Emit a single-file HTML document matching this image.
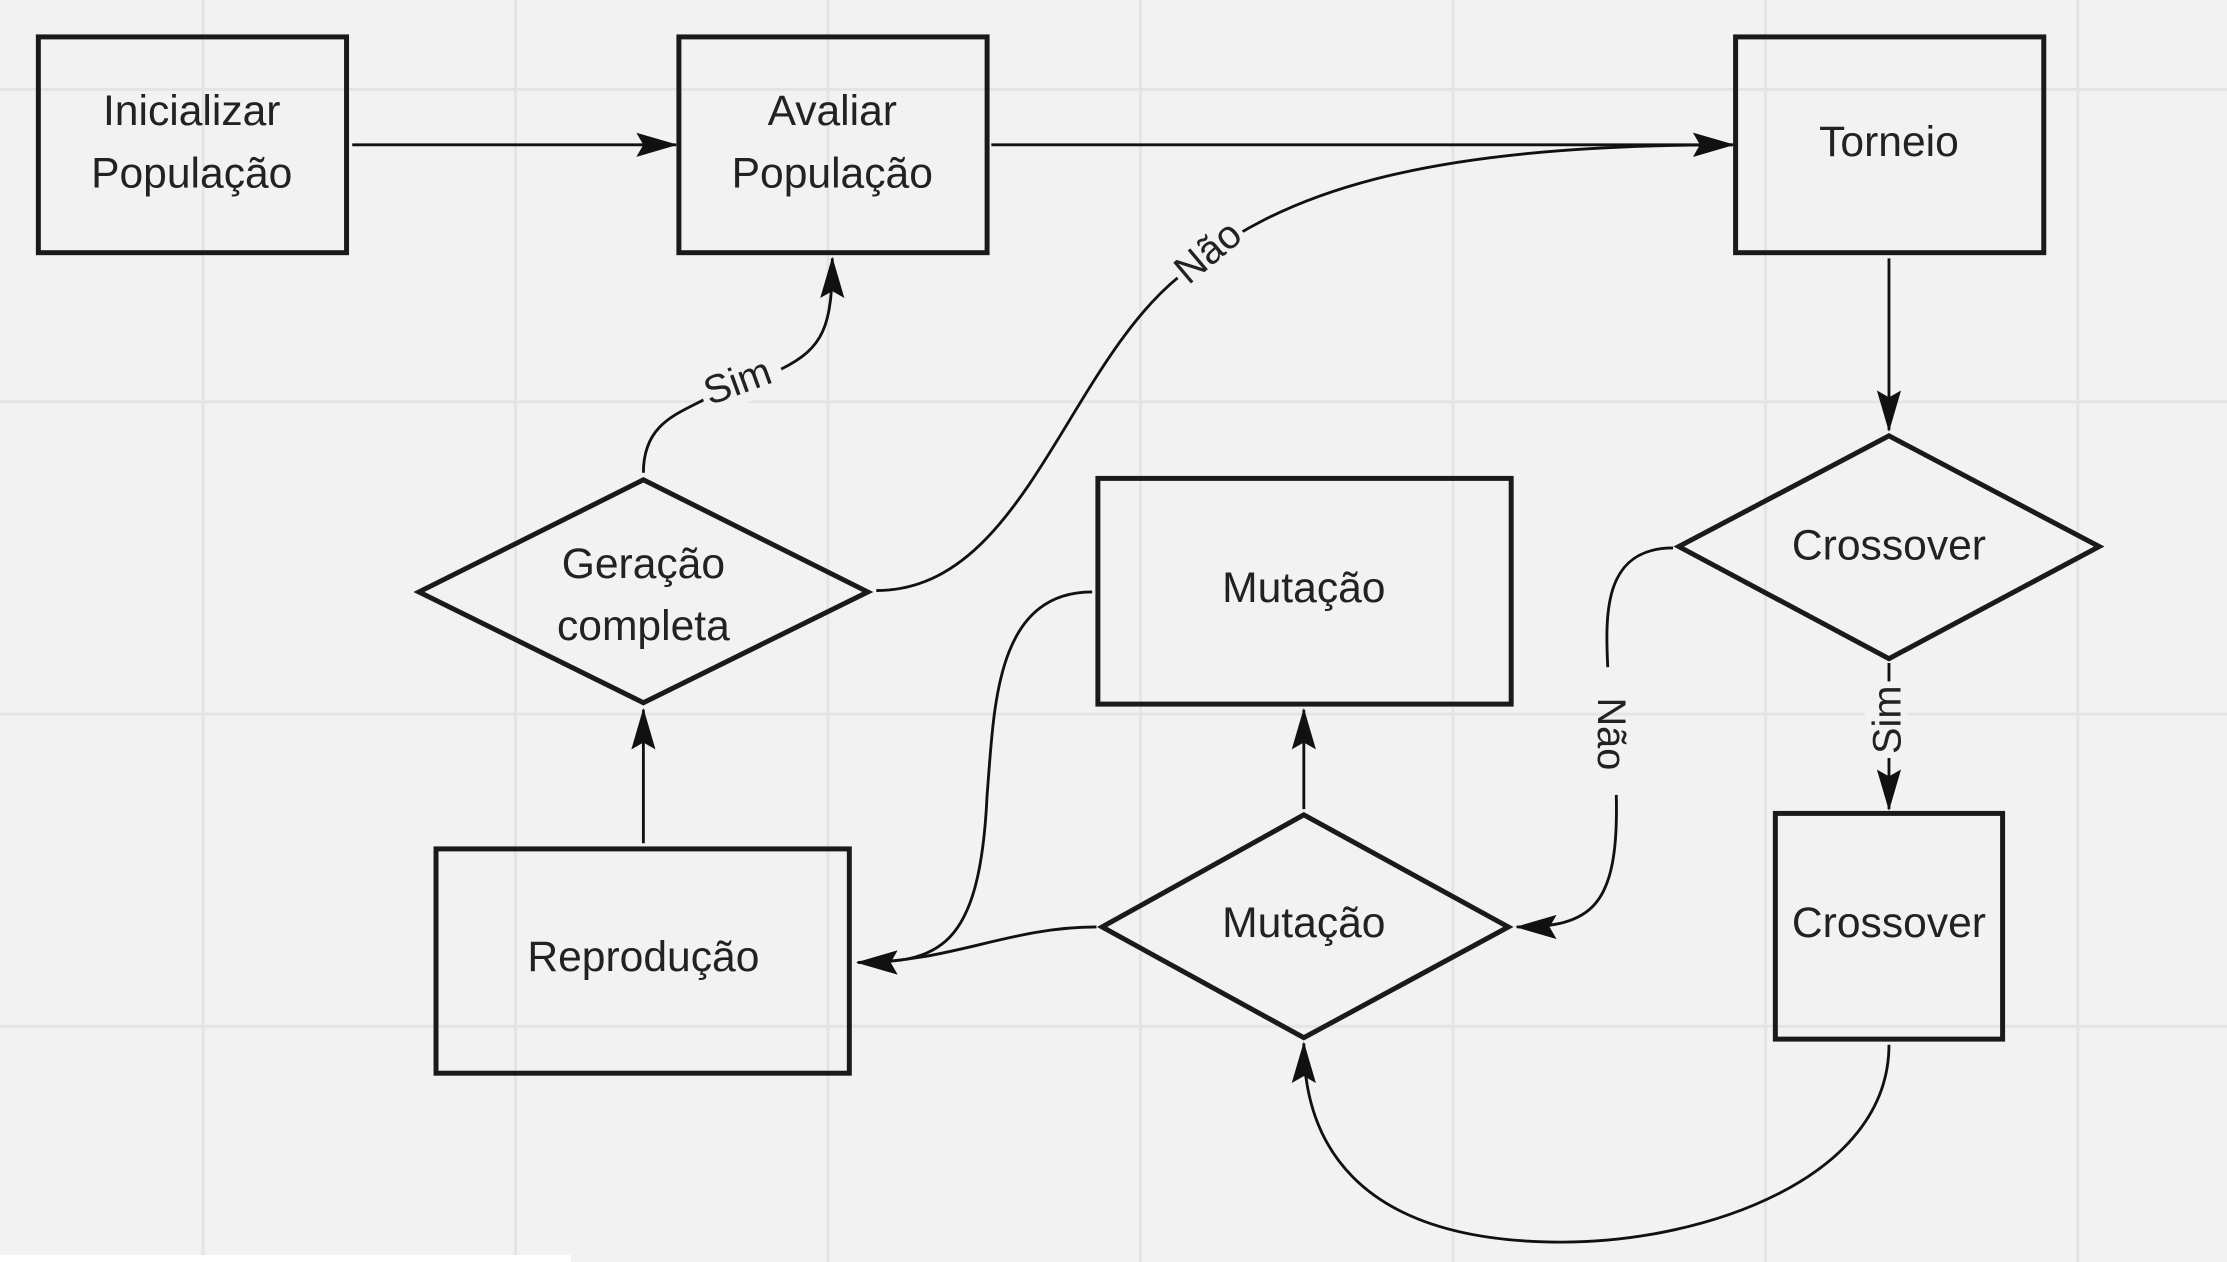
<!DOCTYPE html>
<html><head><style>html,body{margin:0;padding:0;background:#f2f2f2;}svg{display:block}</style></head>
<body>
<svg width="2227" height="1262" viewBox="0 0 1568 889" preserveAspectRatio="none" xmlns="http://www.w3.org/2000/svg">
<defs>
<marker id="b" viewBox="0 0 24 14" refX="23" refY="7" markerWidth="30" markerHeight="17" markerUnits="userSpaceOnUse" orient="auto">
<path d="M0,0 L24,7 L0,14 L4,7 z" fill="#111"/>
</marker>
</defs>
<rect width="1568" height="889" fill="#f2f2f2"/>
<g stroke="#e4e4e4" stroke-width="2">
<line x1="143" y1="0" x2="143" y2="889"/><line x1="363" y1="0" x2="363" y2="889"/><line x1="583" y1="0" x2="583" y2="889"/><line x1="803" y1="0" x2="803" y2="889"/><line x1="1023" y1="0" x2="1023" y2="889"/><line x1="1243" y1="0" x2="1243" y2="889"/><line x1="1463" y1="0" x2="1463" y2="889"/>
<line x1="0" y1="63" x2="1568" y2="63"/><line x1="0" y1="283" x2="1568" y2="283"/><line x1="0" y1="503" x2="1568" y2="503"/><line x1="0" y1="723" x2="1568" y2="723"/>
</g>
<rect x="0" y="884" width="402" height="6" fill="#fff"/>
<g fill="none" stroke="#1a1a1a" stroke-width="3.5">
<rect x="27" y="26" width="217" height="152"/>
<rect x="478" y="26" width="217" height="152"/>
<rect x="1222" y="26" width="217" height="152"/>
<polygon points="295,417 453,338 611,417 453,495"/>
<rect x="773" y="337" width="291" height="159"/>
<polygon points="1182,385 1330,307 1478,385 1330,464"/>
<rect x="307" y="598" width="291" height="158"/>
<polygon points="776,653 918,574 1062,653 918,731"/>
<rect x="1250" y="573" width="160" height="159"/>
</g>
<g fill="none" stroke="#111" stroke-width="2" marker-end="url(#b)">
<path d="M248,102 L476,102"/>
<path d="M698,102 L1220,102"/>
<path d="M617,416 C720,416 750,260 830,195 C900,135 1000,102 1220,102"/>
<path d="M453,333 C453,290 490,290 510,272 M550,260 C580,245 586,230 586,182"/>
<path d="M1330,182 L1330,303"/>
<path d="M1330,467 L1330,570"/>
<path d="M1178,386 C1130,386 1130,430 1132,470 M1138,560 C1140,640 1120,653 1068,653"/>
<path d="M453,594 L453,500"/>
<path d="M918,570 L918,500"/>
<path d="M769,417 C700,417 700,500 695,560 C690,670 660,678 604,678"/>
<path d="M772,653 C710,653 670,678 604,678"/>
<path d="M1330,736 C1330,830 1200,875 1100,875 C950,875 918,800 918,735"/>
</g>
<g font-family="Liberation Sans, sans-serif" font-size="30" fill="#222" text-anchor="middle">
<text x="135" y="88">Inicializar</text><text x="135" y="132">População</text>
<text x="586" y="88">Avaliar</text><text x="586" y="132">População</text>
<text x="1330" y="110">Torneio</text>
<text x="453" y="407">Geração</text><text x="453" y="451">completa</text>
<text x="918" y="424">Mutação</text>
<text x="1330" y="394">Crossover</text>
<text x="453" y="684">Reprodução</text>
<text x="918" y="660">Mutação</text>
<text x="1330" y="660">Crossover</text>
</g>
<g font-family="Liberation Sans, sans-serif" font-size="28" fill="#222" text-anchor="middle">
<rect x="822" y="160" width="56" height="34" fill="#f2f2f2" transform="rotate(-40 850 177)"/>
<text x="850" y="187" transform="rotate(-40 850 177)">Não</text>
<rect x="492" y="253" width="54" height="32" fill="#f2f2f2" transform="rotate(-20 519 268)"/>
<text x="519" y="278" transform="rotate(-20 519 268)">Sim</text>
<rect x="1301" y="492" width="54" height="30" fill="#f2f2f2" transform="rotate(-90 1328 507)"/>
<text x="1328" y="517" transform="rotate(-90 1328 507)">Sim</text>
<text x="1135" y="527" transform="rotate(90 1135 517)">Não</text>
</g>
</svg>
</body></html>
